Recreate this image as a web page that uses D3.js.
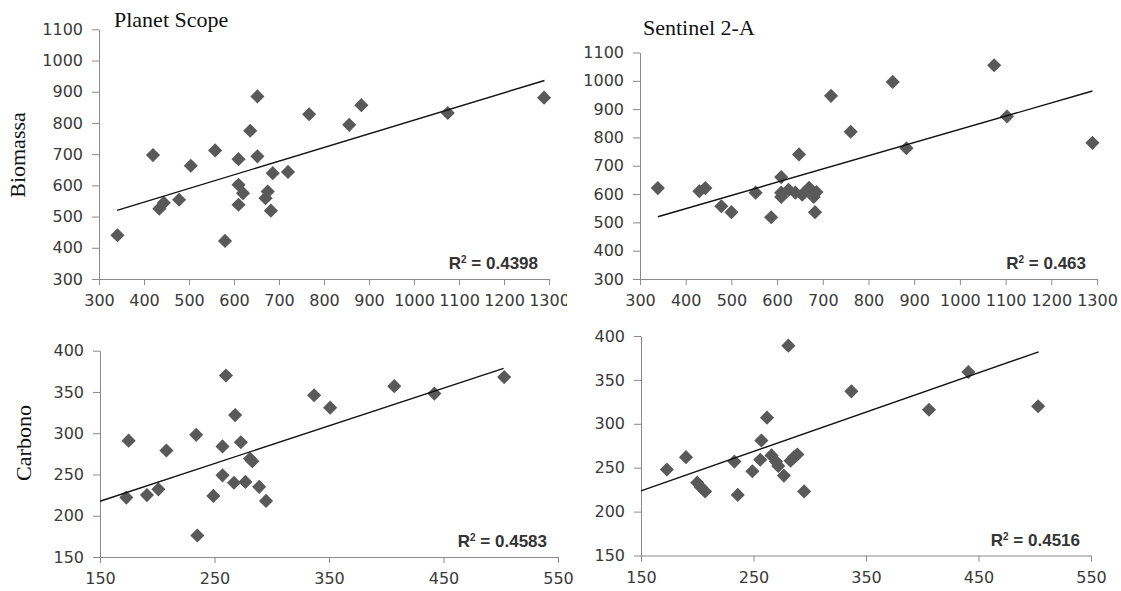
<!DOCTYPE html>
<html>
<head>
<meta charset="utf-8">
<script src="https://cdn.jsdelivr.net/npm/d3@7"></script>
<style>
  html, body { margin: 0; padding: 0; background: #fff; }
  svg { display: block; }
  .tick text { font-family: "DejaVu Sans", Verdana, sans-serif; font-size: 16px; fill: #3a3a3a; }
  .domain, .tick line { stroke: #8a8a8a; }
  .title, .ylab { font-family: "Liberation Serif", "Times New Roman", serif; fill: #111; }
  .r2 { font-family: "Liberation Sans", Arial, sans-serif; font-weight: bold; font-size: 17px; fill: #333; }
</style>
</head>
<body>
<svg id="chart" width="1121" height="591"></svg>
<script>
// values
const bioTicks = [300, 400, 500, 600, 700, 800, 900, 1000, 1100];
const bioXTicks = [300, 400, 500, 600, 700, 800, 900, 1000, 1100, 1200, 1300];
const carTicks = [150, 200, 250, 300, 350, 400];
const carXTicks = [150, 250, 350, 450, 550];

// Planet Scope - Biomassa
const psBioX = [341, 420, 434, 444, 478, 504, 558, 580, 610, 610, 620, 610, 636, 652, 652, 675, 670, 686, 682, 720, 767, 856, 883, 1075, 1289];
const psBioY = [440, 697, 525, 544, 554, 663, 712, 422, 684, 602, 575, 538, 775, 885, 693, 580, 559, 639, 519, 643, 828, 794, 857, 832, 881];
// Sentinel 2-A - Biomassa
const s2BioX = [339, 430, 443, 478, 500, 553, 587, 609, 609, 609, 625, 640, 648, 655, 670, 680, 686, 683, 718, 761, 853, 883, 1075, 1103, 1290];
const s2BioY = [621, 610, 621, 557, 536, 605, 518, 660, 605, 590, 615, 605, 740, 598, 622, 590, 607, 536, 947, 820, 996, 762, 1055, 874, 781];
// Planet Scope - Carbono
const psCarX = [173, 175, 191, 201, 208, 234, 235, 249, 257, 257, 260, 267, 268, 273, 277, 281, 283, 289, 295, 337, 351, 407, 442, 503];
const psCarY = [222, 291, 225, 232, 279, 298, 176, 224, 284, 249, 370, 240, 322, 289, 241, 269, 266, 235, 218, 346, 331, 357, 348, 368];
// Sentinel 2-A - Carbono
const s2CarX = [173, 190, 200, 203, 207, 233, 236, 249, 257, 256, 262, 266, 270, 272, 277, 281, 283, 286, 289, 295, 337, 406, 441, 503];
const s2CarY = [248, 262, 233, 228, 223, 257, 219, 246, 281, 259, 307, 264, 257, 252, 241, 389, 258, 262, 265, 223, 337, 316, 359, 320];

// linear trend lines, [x, y] at both ends
const psBioTrend = [[340, 520], [1290, 936]];
const s2BioTrend = [[339, 520], [1290, 964]];
const psCarTrend = [[150, 217.6], [502.5, 378.6]];
const s2CarTrend = [[150, 223.7], [503.5, 382]];

const r2Labels = ['0.4398', '0.463', '0.4583', '0.4516'];

const svg = d3.select('#chart');

// panel layout in pixels
const panels = [
  { xs: psBioX, ys: psBioY, trend: psBioTrend, r2: r2Labels[0], xd: [300, 1300], yd: [300, 1100], xt: bioXTicks, yt: bioTicks,
    x0: 99, x1: 549, y0: 279, y1: 29.3, clip: 567 },
  { xs: s2BioX, ys: s2BioY, trend: s2BioTrend, r2: r2Labels[1], xd: [300, 1300], yd: [300, 1100], xt: bioXTicks, yt: bioTicks,
    x0: 640, x1: 1097, y0: 279, y1: 52.5 },
  { xs: psCarX, ys: psCarY, trend: psCarTrend, r2: r2Labels[2], xd: [150, 550], yd: [150, 400], xt: carXTicks, yt: carTicks,
    x0: 100, x1: 558, y0: 557, y1: 350.7 },
  { xs: s2CarX, ys: s2CarY, trend: s2CarTrend, r2: r2Labels[3], xd: [150, 550], yd: [150, 400], xt: carXTicks, yt: carTicks,
    x0: 641, x1: 1091, y0: 555.5, y1: 336 }
];

svg.append('clipPath').attr('id', 'clip0')
  .append('rect').attr('x', 0).attr('y', 0).attr('width', 567).attr('height', 320);

const diamond = d3.symbol().type(d3.symbolSquare).size(100);

panels.forEach((p, i) => {
  const g = svg.append('g');
  if (p.clip) g.attr('clip-path', 'url(#clip0)');

  const x = d3.scaleLinear().domain(p.xd).range([p.x0, p.x1]);
  const y = d3.scaleLinear().domain(p.yd).range([p.y0, p.y1]);

  g.append('g')
    .attr('transform', `translate(0,${p.y0})`)
    .call(d3.axisBottom(x).tickValues(p.xt).tickSizeOuter(6).tickSize(6).tickPadding(10).tickFormat(d3.format('d')));

  g.append('g')
    .attr('transform', `translate(${p.x0},0)`)
    .call(d3.axisLeft(y).tickValues(p.yt).tickSize(7).tickSizeOuter(0).tickPadding(9).tickFormat(d3.format('d')));

  g.selectAll('.domain').attr('stroke', '#8a8a8a');

  const pts = p.xs.map((v, k) => [v, p.ys[k]]);
  g.append('g').selectAll('path')
    .data(pts)
    .join('path')
    .attr('d', diamond)
    .attr('transform', (d) => `translate(${x(d[0])},${y(d[1])}) rotate(45)`)
    .attr('fill', '#595959');

  g.append('path')
    .datum(p.trend)
    .attr('d', d3.line().x((d) => x(d[0])).y((d) => y(d[1])))
    .attr('fill', 'none')
    .attr('stroke', '#111')
    .attr('stroke-width', 1.4);

  const r2 = g.append('text')
    .attr('class', 'r2')
    .attr('x', p.x1 - 11)
    .attr('y', p.y0 - 10)
    .attr('text-anchor', 'end');
  r2.append('tspan').text('R');
  r2.append('tspan').attr('dy', -6).attr('font-size', 10).text('2');
  r2.append('tspan').attr('dy', 6).text(' = ' + p.r2);
});

// titles and axis names
svg.append('text').attr('class', 'title').attr('x', 114).attr('y', 27).attr('font-size', 22).text('Planet Scope');
svg.append('text').attr('class', 'title').attr('x', 643).attr('y', 35).attr('font-size', 22).text('Sentinel 2-A');
svg.append('text').attr('class', 'ylab').attr('font-size', 22)
  .attr('transform', 'translate(25,155) rotate(-90)').attr('text-anchor', 'middle').text('Biomassa');
svg.append('text').attr('class', 'ylab').attr('font-size', 22)
  .attr('transform', 'translate(31,443) rotate(-90)').attr('text-anchor', 'middle').text('Carbono');
</script>
</body>
</html>
